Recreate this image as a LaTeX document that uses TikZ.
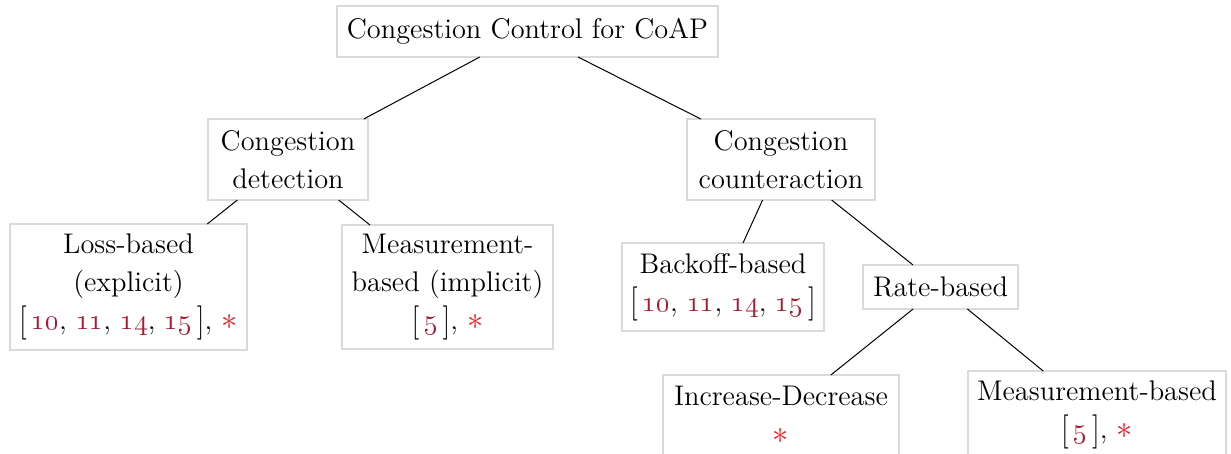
\documentclass[tikz,border=0pt]{standalone}
\usepackage{xcolor}
\usepackage{graphicx}
\definecolor{citecol}{RGB}{165,28,52}
\definecolor{starcol}{RGB}{238,28,36}
\definecolor{boxline}{RGB}{218,218,218}
\newcommand{\cit}[1]{\textcolor{citecol}{\oldstylenums{#1}}}
\newcommand{\newmark}{\textcolor{starcol}{\scalebox{1.12}{$\ast$}}}
\newcommand{\lbr}{\raisebox{-0.1ex}{\scalebox{1}[1.2]{[}}\,}
\newcommand{\rbr}{\,\raisebox{-0.1ex}{\scalebox{1}[1.2]{]}}}
\tikzset{
  box/.style={draw=boxline, line width=0.6pt, rectangle, inner sep=0pt, outer sep=0pt,
    align=center, font=\fontsize{14.2}{19}\selectfont},
  link/.style={draw=black, line width=0.5pt}
}
\begin{document}
\begin{tikzpicture}[x=0.5pt, y=-0.5pt]
\useasboundingbox (0,0) rectangle (1231,454);
\clip (0,0) rectangle (1231,454);
% root
\node[box, minimum width=190.5pt, minimum height=25.5pt] (root) at (527.5,31.5)
  {Congestion Control for CoAP};
% second level
\node[box, minimum width=80pt, minimum height=40.5pt] (detect) at (288,159.5)
  {Congestion\\detection};
\node[box, minimum width=94pt, minimum height=40.5pt] (counter) at (781,159.5)
  {Congestion\\counteraction};
% third level
\node[box, minimum width=118.5pt, minimum height=63pt] (loss) at (128.5,287)
  {Loss-based\\(explicit)\\\lbr\cit{10}, \cit{11}, \cit{14}, \cit{15}\rbr, \newmark};
\node[box, minimum width=105.5pt, minimum height=62pt] (meas) at (447.5,287)
  {Measurement-\\based (implicit)\\\lbr\cit{5}\rbr, \newmark};
\node[box, minimum width=101pt, minimum height=44pt] (backoff) at (723,287)
  {Backoff-based\\\lbr\cit{10}, \cit{11}, \cit{14}, \cit{15}\rbr};
\node[box, minimum width=77.5pt, minimum height=22pt] (rate) at (940.5,287)
  {Rate-based};
% fourth level
\node[box, minimum width=118pt, minimum height=40pt] (incdec) at (781,415)
  {Increase-Decrease\\\newmark};
\node[box, minimum width=129pt, minimum height=44pt] (measb) at (1097,415)
  {Measurement-based\\\lbr\cit{5}\rbr, \newmark};
% connectors
\draw[link] (root) -- (detect);
\draw[link] (root) -- (counter);
\draw[link] (detect) -- (loss);
\draw[link] (detect) -- (meas);
\draw[link] (counter) -- (backoff);
\draw[link] (counter) -- (rate);
\draw[link] (rate) -- (incdec);
\draw[link] (rate) -- (measb);
\end{tikzpicture}
\end{document}
